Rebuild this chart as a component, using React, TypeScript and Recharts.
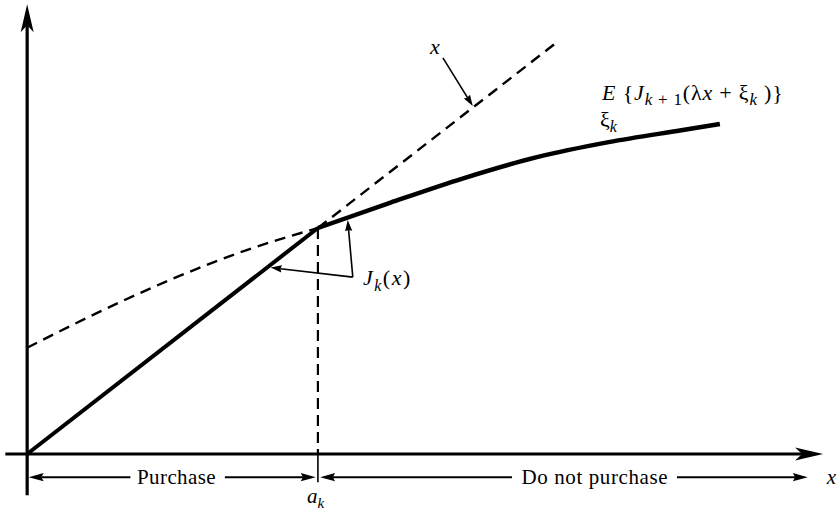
import { ComposedChart, Line, XAxis, YAxis, ReferenceLine, ReferenceDot } from 'recharts'

// J_k(x) = x for x below the threshold a_k
const A_K = 4
const purchaseSegment = [
    { x: 0, y: 0 },
    { x: 4, y: 4 },
]
// the identity line x, continued past a_k
const identityTail = [
    { x: 4, y: 4 },
    { x: 7.3, y: 7.3 },
]
// E{J_{k+1}(λx + ξ_k)} left and right of a_k
const expectedLeft = [
    { x: 0, y: 1.88 },
    { x: 1, y: 2.52 },
    { x: 2, y: 3.1 },
    { x: 3, y: 3.6 },
    { x: 4, y: 4.0 },
]
const expectedRight = [
    { x: 4, y: 4.0 },
    { x: 5, y: 4.45 },
    { x: 6, y: 4.88 },
    { x: 7, y: 5.25 },
    { x: 8, y: 5.52 },
    { x: 9, y: 5.73 },
    { x: 9.53, y: 5.84 },
]

const SERIF = '"Liberation Serif", "DejaVu Serif", serif'
const INK = '#000'

type ArrowOpts = { width: number; head: number; half: number; notch?: number }

// line with a filled arrowhead at its second end point
function arrowLine({ width, head, half, notch = 0 }: ArrowOpts) {
    return (p: any) => {
        const { x1, y1, x2, y2 } = p
        const a = Math.atan2(y2 - y1, x2 - x1)
        const ux = Math.cos(a)
        const uy = Math.sin(a)
        const bx = x2 - ux * head
        const by = y2 - uy * head
        const nx = x2 - ux * head * (1 - notch)
        const ny = y2 - uy * head * (1 - notch)
        const pts = [
            `${x2},${y2}`,
            `${bx - uy * half},${by + ux * half}`,
            `${nx},${ny}`,
            `${bx + uy * half},${by - ux * half}`,
        ].join(' ')
        return (
            <g>
                <line x1={x1} y1={y1} x2={nx} y2={ny} stroke={INK} strokeWidth={width} />
                <polygon points={pts} fill={INK} />
            </g>
        )
    }
}

function plainLine(width: number, dash?: string) {
    return (p: any) => (
        <line x1={p.x1} y1={p.y1} x2={p.x2} y2={p.y2} stroke={INK} strokeWidth={width} strokeDasharray={dash} />
    )
}

function textAt(render: (cx: number, cy: number) => JSX.Element) {
    return (p: any) => render(p.cx, p.cy)
}

const axisArrow = arrowLine({ width: 3.2, head: 28, half: 6.5, notch: 0.25 })
const rowArrow = arrowLine({ width: 2, head: 15, half: 4.2, notch: 0.15 })
const pointerArrow = arrowLine({ width: 1.6, head: 11, half: 3.6, notch: 0.1 })

const ROW_Y = -0.41

export default function App() {
    return (
        <div style={{ position: 'absolute', left: 0, top: 0, background: '#fff' }}>
            <ComposedChart width={840} height={513} margin={{ top: 2, right: 6, bottom: 2.5, left: 3.9 }}>
                <XAxis type="number" dataKey="x" domain={[-0.32, 11.1]} hide />
                <YAxis type="number" dataKey="y" domain={[-1, 8]} hide />

                {/* axes */}
                <ReferenceLine segment={[{ x: 0, y: -0.73 }, { x: 0, y: 7.96 }]} shape={axisArrow} />
                <ReferenceLine segment={[{ x: -0.3, y: 0 }, { x: 10.95, y: 0 }]} shape={axisArrow} />

                <Line
                    data={expectedLeft}
                    dataKey="y"
                    type="monotone"
                    stroke={INK}
                    strokeWidth={2.4}
                    strokeDasharray="11 7"
                    dot={false}
                    activeDot={false}
                    isAnimationActive={false}
                />
                <Line
                    data={expectedRight}
                    dataKey="y"
                    type="monotone"
                    stroke={INK}
                    strokeWidth={4.5}
                    dot={false}
                    activeDot={false}
                    isAnimationActive={false}
                />
                <Line
                    data={identityTail}
                    dataKey="y"
                    type="linear"
                    stroke={INK}
                    strokeWidth={2.4}
                    strokeDasharray="11 7"
                    dot={false}
                    activeDot={false}
                    isAnimationActive={false}
                />
                <Line
                    data={purchaseSegment}
                    dataKey="y"
                    type="linear"
                    stroke={INK}
                    strokeWidth={4}
                    dot={false}
                    activeDot={false}
                    isAnimationActive={false}
                />

                {/* threshold a_k */}
                <ReferenceLine segment={[{ x: A_K, y: 4 }, { x: A_K, y: 0 }]} shape={plainLine(2.2, '11 6')} />
                <ReferenceLine segment={[{ x: A_K, y: 0 }, { x: A_K, y: -0.5 }]} shape={plainLine(1.6)} />

                {/* purchase / do not purchase ranges */}
                <ReferenceLine segment={[{ x: 1.42, y: ROW_Y }, { x: 0.02, y: ROW_Y }]} shape={rowArrow} />
                <ReferenceLine segment={[{ x: 2.72, y: ROW_Y }, { x: 3.97, y: ROW_Y }]} shape={rowArrow} />
                <ReferenceLine segment={[{ x: 6.67, y: ROW_Y }, { x: 4.03, y: ROW_Y }]} shape={rowArrow} />
                <ReferenceLine segment={[{ x: 8.94, y: ROW_Y }, { x: 10.74, y: ROW_Y }]} shape={rowArrow} />

                {/* pointers */}
                <ReferenceLine segment={[{ x: 5.72, y: 7.01 }, { x: 6.13, y: 6.16 }]} shape={pointerArrow} />
                <ReferenceLine segment={[{ x: 4.48, y: 3.13 }, { x: 3.35, y: 3.3 }]} shape={pointerArrow} />
                <ReferenceLine segment={[{ x: 4.48, y: 3.13 }, { x: 4.41, y: 4.14 }]} shape={pointerArrow} />

                {/* labels */}
                <ReferenceDot
                    x={2.055}
                    y={-0.53}
                    r={0}
                    shape={textAt((cx, cy) => (
                        <text x={cx} y={cy} textAnchor="middle" fontFamily={SERIF} fontSize={21} letterSpacing={0.4} fill={INK}>
                            Purchase
                        </text>
                    ))}
                />
                <ReferenceDot
                    x={7.81}
                    y={-0.53}
                    r={0}
                    shape={textAt((cx, cy) => (
                        <text x={cx} y={cy} textAnchor="middle" fontFamily={SERIF} fontSize={21} letterSpacing={0.6} fill={INK}>
                            Do not purchase
                        </text>
                    ))}
                />
                <ReferenceDot
                    x={11.0}
                    y={-0.53}
                    r={0}
                    shape={textAt((cx, cy) => (
                        <text x={cx} y={cy} fontFamily={SERIF} fontSize={21} fontStyle="italic" fill={INK}>
                            x
                        </text>
                    ))}
                />
                <ReferenceDot
                    x={A_K}
                    y={-0.87}
                    r={0}
                    shape={textAt((cx, cy) => (
                        <text x={cx - 11} y={cy} fontFamily={SERIF} fontSize={21} fontStyle="italic" fill={INK}>
                            a
                            <tspan fontSize={15} dy={5}>k</tspan>
                        </text>
                    ))}
                />
                <ReferenceDot
                    x={5.61}
                    y={7.08}
                    r={0}
                    shape={textAt((cx, cy) => (
                        <text x={cx} y={cy} textAnchor="middle" fontFamily={SERIF} fontSize={22} fontStyle="italic" fill={INK}>
                            x
                        </text>
                    ))}
                />
                <ReferenceDot
                    x={4.62}
                    y={2.99}
                    r={0}
                    shape={textAt((cx, cy) => (
                        <text x={cx} y={cy} fontFamily={SERIF} fontSize={22} letterSpacing={1.5} fill={INK}>
                            <tspan fontStyle="italic">J</tspan>
                            <tspan fontStyle="italic" fontSize={16} dy={6}>k</tspan>
                            <tspan dy={-6}>(</tspan>
                            <tspan fontStyle="italic">x</tspan>
                            <tspan>)</tspan>
                        </text>
                    ))}
                />
                <ReferenceDot
                    x={7.91}
                    y={6.27}
                    r={0}
                    shape={textAt((cx, cy) => (
                        <text x={cx} y={cy} fontFamily={SERIF} fontSize={22} letterSpacing={0.8} fill={INK}>
                            <tspan fontStyle="italic">E</tspan>
                            <tspan> {'{'}</tspan>
                            <tspan fontStyle="italic">J</tspan>
                            <tspan fontStyle="italic" fontSize={17} dy={5}>k</tspan>
                            <tspan fontSize={17}> + 1</tspan>
                            <tspan dy={-5}>(λ</tspan>
                            <tspan fontStyle="italic">x</tspan>
                            <tspan> + ξ</tspan>
                            <tspan fontStyle="italic" fontSize={17} dy={5}>k</tspan>
                            <tspan dy={-5}> ){'}'}</tspan>
                        </text>
                    ))}
                />
                <ReferenceDot
                    x={7.88}
                    y={5.79}
                    r={0}
                    shape={textAt((cx, cy) => (
                        <text x={cx} y={cy} fontFamily={SERIF} fontSize={22} fill={INK}>
                            ξ<tspan fontStyle="italic" fontSize={16} dy={5}>k</tspan>
                        </text>
                    ))}
                />
            </ComposedChart>
        </div>
    )
}
